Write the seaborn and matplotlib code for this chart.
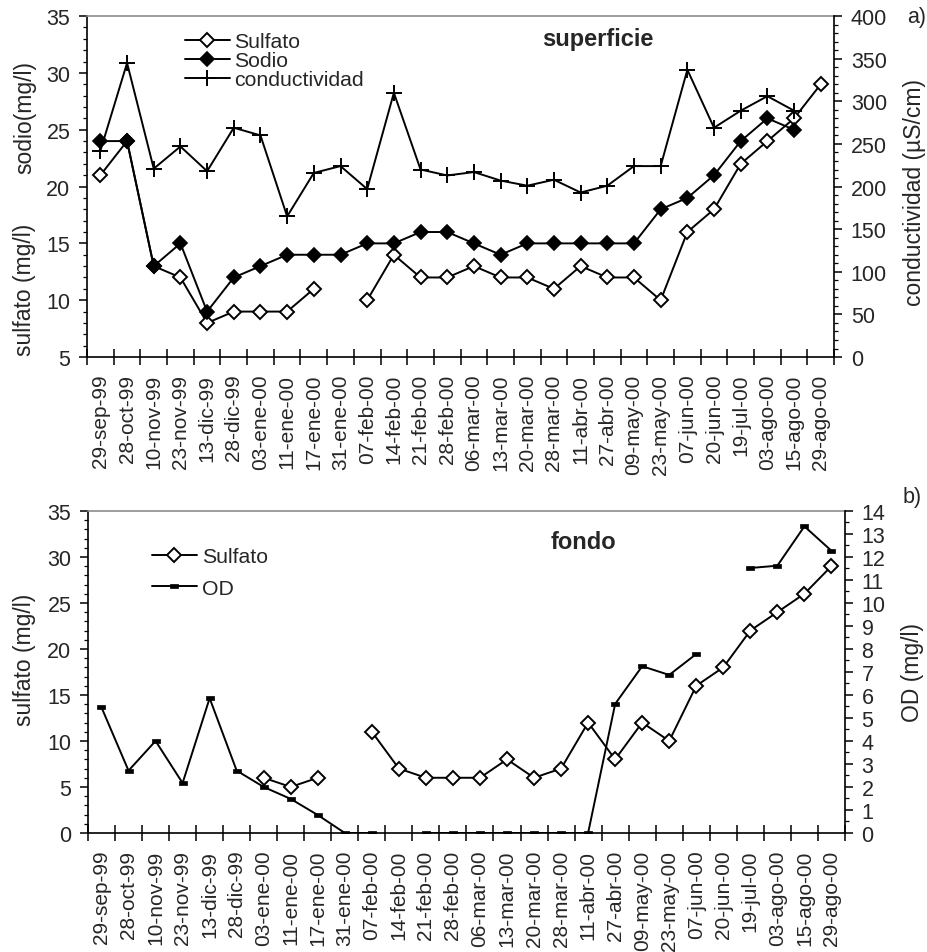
import numpy as np
import pandas as pd
import matplotlib
matplotlib.use("Agg")
import matplotlib.pyplot as plt
from matplotlib.lines import Line2D
from matplotlib.ticker import MultipleLocator
import seaborn as sns

nan = np.nan

fechas = ["29-sep-99", "28-oct-99", "10-nov-99", "23-nov-99", "13-dic-99", "28-dic-99",
          "03-ene-00", "11-ene-00", "17-ene-00", "31-ene-00", "07-feb-00", "14-feb-00",
          "21-feb-00", "28-feb-00", "06-mar-00", "13-mar-00", "20-mar-00", "28-mar-00",
          "11-abr-00", "27-abr-00", "09-may-00", "23-may-00", "07-jun-00", "20-jun-00",
          "19-jul-00", "03-ago-00", "15-ago-00", "29-ago-00"]

# superficie
sulfato_sup = [21, 24, 13, 12, 8, 9, 9, 9, 11, nan, 10, 14, 12, 12, 13, 12, 12, 11,
               13, 12, 12, 10, 16, 18, 22, 24, 26, 29]
sodio_sup = [24, 24, 13, 15, 9, 12, 13, 14, 14, 14, 15, 15, 16, 16, 15, 14, 15, 15,
             15, 15, 15, 18, 19, 21, 24, 26, 25, nan]
conduct_sup = [242, 345, 221, 247, 218, 269, 260, 165, 216, 224, 197, 310, 220, 213,
               217, 207, 201, 208, 193, 201, 224, 224, 337, 269, 289, 306, 289, nan]

# fondo
sulfato_fon = [nan, nan, nan, nan, nan, nan, 6, 5, 6, nan, 11, 7, 6, 6, 6, 8, 6, 7,
               12, 8, 12, 10, 16, 18, 22, 24, 26, 29]
od_fon = [5.46, 2.71, 4.0, 2.17, 5.86, 2.71, 2.0, 1.48, 0.78, 0, 0, nan, 0, 0, 0, 0,
          0, 0, 0, 5.61, 7.25, 6.87, 7.78, nan, 11.52, 11.62, 13.33, 12.27]

sns.set_style("ticks")
plt.rcParams["font.family"] = ["Liberation Sans", "DejaVu Sans"]
FS_TICK = 15.5
FS_DATE = 15
FS_LEG = 15.3
FS_LAB = 16.5
FS_TIT = 17

n = len(fechas)
xpos = np.arange(n) + 0.5

SULF = dict(marker="D", markersize=7.2, markerfacecolor="white",
            markeredgecolor="black", markeredgewidth=1.4)
SOD = dict(marker="D", markersize=7.6, markerfacecolor="black",
           markeredgecolor="black", markeredgewidth=1.2)
COND = dict(marker="+", markersize=12, markeredgecolor="black", markeredgewidth=1.4)
OD_MARK = [(-1, -0.45), (1, -0.45), (1, 0.45), (-1, 0.45), (-1, -0.45)]
ODS = dict(marker=OD_MARK, markersize=6, markerfacecolor="black",
           markeredgecolor="black", markeredgewidth=0.5)


def draw(ax, values, style, z=2):
    df = pd.DataFrame({"x": xpos, "y": values})
    df["seg"] = df["y"].isna().cumsum()
    df = df.dropna()
    sns.lineplot(data=df, x="x", y="y", units="seg", estimator=None, ax=ax,
                 color="black", linewidth=1.4, legend=False, zorder=z, **style)


def style_x(ax):
    ax.set_xlim(0, n)
    ax.set_xticks(np.arange(n + 1))
    ax.set_xticklabels([])
    ax.set_xticks(xpos, minor=True)
    ax.set_xticklabels(fechas, minor=True, rotation=90, fontsize=FS_DATE)
    ax.tick_params(axis="x", which="major", direction="inout", length=12,
                   width=1.1, color="black")
    ax.tick_params(axis="x", which="minor", length=0, pad=12)
    ax.set_xlabel("")


def style_y(ax, major, minor):
    ax.yaxis.set_major_locator(MultipleLocator(major))
    ax.yaxis.set_minor_locator(MultipleLocator(minor))
    ax.tick_params(axis="y", which="major", direction="out", length=6, width=1.1,
                   labelsize=FS_TICK, pad=6, color="black")
    ax.tick_params(axis="y", which="minor", direction="out", length=3, width=0.9,
                   color="black")
    ax.set_ylabel("")


def style_spines(ax, twin):
    for s in ["left", "bottom"]:
        ax.spines[s].set_color("black")
        ax.spines[s].set_linewidth(1.2)
    ax.spines["top"].set_color("#8c8c8c")
    ax.spines["top"].set_linewidth(1.2)
    ax.spines["right"].set_visible(False)
    twin.spines["right"].set_color("black")
    twin.spines["right"].set_linewidth(1.2)
    for s in ["left", "bottom", "top"]:
        twin.spines[s].set_visible(False)


fig = plt.figure(figsize=(9.28, 9.53), dpi=100)

# ---------------- a) superficie ----------------
ax1 = fig.add_axes([0.0938, 0.6243, 0.8050, 0.3578])
ax1r = ax1.twinx()
draw(ax1, sulfato_sup, SULF, z=2)
draw(ax1, sodio_sup, SOD, z=3)
draw(ax1r, conduct_sup, COND, z=2)
ax1.set_ylim(5, 35)
ax1r.set_ylim(0, 400)
style_x(ax1)
style_y(ax1, 5, 1)
style_y(ax1r, 50, 10)
style_spines(ax1, ax1r)

handles_a = [Line2D([], [], color="black", lw=1.4, **SULF),
             Line2D([], [], color="black", lw=1.4, **SOD),
             Line2D([], [], color="black", lw=1.4, **COND)]
ax1r.legend(handles_a, ["Sulfato", "Sodio", "conductividad"], loc="upper left",
            bbox_to_anchor=(0.131, 0.952), frameon=False, fontsize=FS_LEG,
            borderpad=0, borderaxespad=0, handlelength=2.1, handletextpad=0.2,
            labelspacing=0.0)
ax1r.text(0.684, 0.935, "superficie", transform=ax1r.transAxes, ha="center",
          va="center", fontsize=FS_TIT, fontweight="bold")

fig.text(25 / 928, 1 - 117 / 953, "sodio(mg/l)", rotation=90, ha="center",
         va="center", fontsize=FS_LAB)
fig.text(25 / 928, 1 - 290 / 953, "sulfato (mg/l)", rotation=90, ha="center",
         va="center", fontsize=FS_LAB)
fig.text(915 / 928, 1 - 193 / 953, "conductividad (µS/cm)", rotation=90,
         ha="center", va="center", fontsize=FS_LAB)
fig.text(917 / 928, 1 - 18 / 953, "a)", ha="center", va="center", fontsize=FS_TICK)

# ---------------- b) fondo ----------------
ax2 = fig.add_axes([0.0948, 0.1249, 0.8157, 0.3379])
ax2r = ax2.twinx()
draw(ax2, sulfato_fon, SULF, z=2)
draw(ax2r, od_fon, ODS, z=2)
ax2.set_ylim(0, 35)
ax2r.set_ylim(0, 14)
style_x(ax2)
style_y(ax2, 5, 1)
style_y(ax2r, 1, 0.5)
style_spines(ax2, ax2r)

handles_b = [Line2D([], [], color="black", lw=1.4, **SULF),
             Line2D([], [], color="black", lw=1.4, **ODS)]
ax2r.legend(handles_b, ["Sulfato", "OD"], loc="upper left",
            bbox_to_anchor=(0.0845, 0.888), frameon=False, fontsize=FS_LEG,
            borderpad=0, borderaxespad=0, handlelength=2.1, handletextpad=0.25,
            labelspacing=0.6)
ax2r.text(0.654, 0.904, "fondo", transform=ax2r.transAxes, ha="center",
          va="center", fontsize=FS_TIT, fontweight="bold")

fig.text(25 / 928, 1 - 660 / 953, "sulfato (mg/l)", rotation=90, ha="center",
         va="center", fontsize=FS_LAB)
fig.text(913 / 928, 1 - 672 / 953, "OD (mg/l)", rotation=90, ha="center",
         va="center", fontsize=FS_LAB)
fig.text(912 / 928, 1 - 498 / 953, "b)", ha="center", va="center", fontsize=FS_TICK)

fig.savefig("out.png", dpi=100)
